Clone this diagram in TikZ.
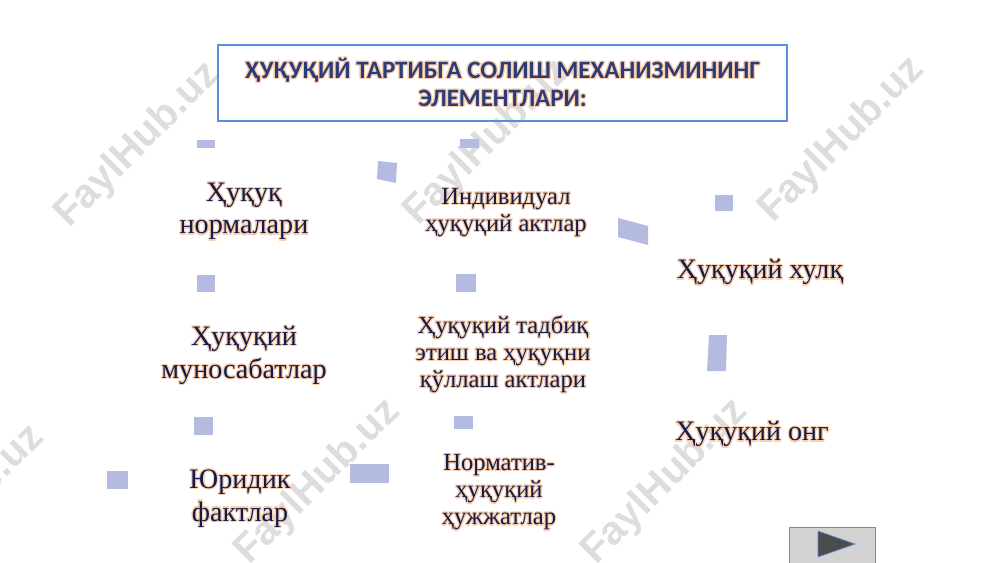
\documentclass[tikz,border=0pt]{standalone}
\usepackage{fontspec}
\setmainfont{Liberation Serif}
\newfontfamily\titlefont{Carlito}
\newfontfamily\markfont{Liberation Sans}
\usepackage[copies]{contour}
\contourlength{0.7pt}
\contournumber{12}
\definecolor{ink}{HTML}{101C4C}
\definecolor{titleink}{HTML}{2B3C78}
\definecolor{glow}{HTML}{F9CFAE}
\definecolor{bitcol}{HTML}{B3BCE0}
\definecolor{framecol}{HTML}{5B8FD6}
\definecolor{markcol}{HTML}{DDDDDD}
\newcommand{\gl}[1]{\contour{glow}{#1}}

\begin{document}
\begin{tikzpicture}[x=0.2mm,y=-0.2mm,
  big/.style={align=center,font=\fontsize{16}{18.6}\selectfont,text=ink},
  small/.style={align=center,font=\fontsize{14}{15.4}\selectfont,text=ink},
  bit/.style={fill=bitcol},
  wm/.style={text=markcol,rotate=45,font=\markfont\bfseries\fontsize{23}{23}\selectfont}]
\useasboundingbox (0,0) rectangle (1000,562);
% watermarks
\node[wm] (wm1) at (138,145) {FaylHub.uz};
\node[wm] (wm2) at (487,143) {FaylHub.uz};
\node[wm] (wm3) at (842,140) {FaylHub.uz};
\node[wm] (wm4) at (-38,508) {FaylHub.uz};
\node[wm] (wm5) at (318,482) {FaylHub.uz};
\node[wm] (wm6) at (665,482) {FaylHub.uz};
% title
\node[draw=framecol,line width=0.6pt,minimum width=113.8mm,minimum height=15.2mm,
  align=center,text=titleink,font=\titlefont\bfseries\fontsize{14.2}{16}\selectfont]
  (title) at (502.5,83) {\gl{ҲУҚУҚИЙ ТАРТИБГА СОЛИШ МЕХАНИЗМИНИНГ}\\\gl{ЭЛЕМЕНТЛАРИ:}};
% terms
\node[big] (norm) at (244,212) {\gl{Ҳуқуқ}\\\gl{нормалари}};
\node[small] (indiv) at (506,213) {\gl{Индивидуал}\\\gl{ҳуқуқий актлар}};
\node[big] (hulq) at (760,273) {\gl{Ҳуқуқий хулқ}};
\node[big] (munos) at (244,356) {\gl{Ҳуқуқий}\\\gl{муносабатлар}};
\node[small] (tadbiq) at (503,355) {\gl{Ҳуқуқий тадбиқ}\\\gl{этиш ва ҳуқуқни}\\\gl{қўллаш актлари}};
\node[big] (ong) at (752,435) {\gl{Ҳуқуқий онг}};
\node[big] (fakt) at (240,499) {\gl{Юридик}\\\gl{фактлар}};
\node[small] (hujjat) at (499,493) {\gl{Норматив-}\\\gl{ҳуқуқий}\\\gl{ҳужжатлар}};
% arrow remnants
\fill[bit] (197,140) rectangle (215,148);
\fill[bit] (378,161) -- (397,163) -- (396,183) -- (377,179) -- cycle;
\fill[bit] (460,139) rectangle (479,148);
\fill[bit] (618,218) -- (648,226) -- (648,245) -- (618,237) -- cycle;
\fill[bit] (715,195) rectangle (733,211);
\fill[bit] (197,275) rectangle (215,292);
\fill[bit] (456,274) rectangle (476,292);
\fill[bit] (709,335) -- (727,335) -- (726,371) -- (707,371) -- cycle;
\fill[bit] (194,417) rectangle (213,435);
\fill[bit] (454,416) rectangle (473,429);
\fill[bit] (107,471) rectangle (128,489);
\fill[bit] (350,464) rectangle (389,483);
% next button
\node[draw=framecol,fill=gray!35,minimum width=17.2mm,minimum height=7.6mm] (next) at (832,546) {};
\fill[gray!60!black,draw=framecol] (818,531) -- (855,544) -- (818,557) -- cycle;
\end{tikzpicture}
\end{document}
